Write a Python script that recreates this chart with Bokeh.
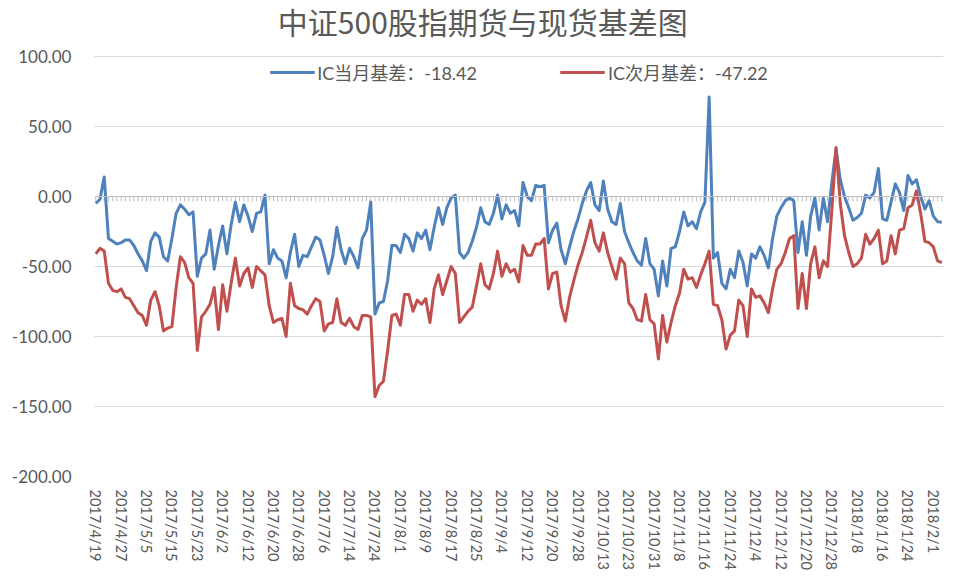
from bokeh.plotting import figure
from bokeh.models import (Range1d, FixedTicker, PrintfTickFormatter, Legend, LegendItem, Span, Label)
from bokeh.embed import file_html
from bokeh.resources import INLINE

title_text = "中证500股指期货与现货基差图"
series_names = ["IC当月基差：-18.42", "IC次月基差：-47.22"]

tick_labels = ["2017/4/19", "2017/4/27", "2017/5/5", "2017/5/15", "2017/5/23", "2017/6/2",
               "2017/6/12", "2017/6/20", "2017/6/28", "2017/7/6", "2017/7/14", "2017/7/24",
               "2017/8/1", "2017/8/9", "2017/8/17", "2017/8/25", "2017/9/4", "2017/9/12",
               "2017/9/20", "2017/9/28", "2017/10/13", "2017/10/23", "2017/10/31", "2017/11/8",
               "2017/11/16", "2017/11/24", "2017/12/4", "2017/12/12", "2017/12/20", "2017/12/28",
               "2018/1/8", "2018/1/16", "2018/1/24", "2018/2/1"]
label_step = 6

ic_near = [
    -5, -2, 14, -30, -32, -34, -33, -31, -31, -35,
    -41, -46, -53, -32, -26, -29, -43, -46, -30, -12,
    -6, -9, -13, -11, -57, -44, -41, -24, -52, -35,
    -21, -41, -20, -4, -18, -6, -14, -25, -12, -11,
    1, -48, -38, -44, -46, -58, -40, -27, -50, -42,
    -43, -36, -29, -31, -42, -55, -43, -22, -38, -48,
    -37, -43, -51, -30, -24, -4, -84, -76, -75, -60,
    -35, -35, -40, -27, -30, -39, -26, -30, -24, -38,
    -22, -8, -20, -8, -1, 1, -40, -44, -40, -32,
    -22, -8, -18, -20, -12, 1, -16, -6, -12, -10,
    -21, 10, 0, -3, 8, 7, 8, -33, -24, -19,
    -38, -48, -36, -25, -16, -5, 4, 10, -6, -10,
    11, -9, -18, -20, -5, -25, -33, -40, -46, -49,
    -30, -48, -52, -71, -46, -64, -37, -36, -25, -11,
    -21, -18, -23, -11, -4, 71, -44, -40, -62, -66,
    -52, -58, -39, -47, -64, -41, -44, -36, -42, -51,
    -30, -14, -8, -3, -1, -3, -40, -18, -42, -14,
    -1, -24, -1, -18, 10, 34, 12, 0, -8, -17,
    -15, -12, 1, -1, 3, 20, -16, -17, -4, 9,
    3, -10, 15, 9, 12, 0, -9, -3, -14, -18,
    -18.42]

ic_next = [
    -41, -37, -39, -62, -67, -68, -66, -72, -73, -78,
    -83, -85, -92, -74, -68, -78, -96, -94, -93, -65,
    -43, -47, -58, -62, -110, -86, -82, -77, -65, -95,
    -63, -82, -62, -44, -64, -55, -51, -65, -50, -53,
    -56, -78, -90, -88, -87, -100, -62, -78, -80, -81,
    -84, -78, -73, -75, -96, -91, -90, -73, -90, -92,
    -87, -93, -95, -85, -85, -86, -143, -135, -132, -110,
    -85, -84, -92, -70, -70, -82, -74, -77, -73, -90,
    -66, -56, -70, -60, -50, -55, -90, -86, -82, -79,
    -64, -48, -63, -66, -55, -39, -57, -48, -54, -52,
    -61, -35, -42, -42, -34, -34, -30, -66, -55, -54,
    -78, -89, -72, -60, -49, -40, -29, -17, -33, -39,
    -26, -40, -50, -59, -44, -48, -76, -80, -88, -89,
    -70, -88, -91, -116, -85, -104, -90, -78, -69, -52,
    -59, -58, -65, -56, -48, -39, -77, -78, -88, -109,
    -99, -96, -74, -78, -100, -66, -72, -71, -76, -83,
    -66, -52, -48, -40, -30, -28, -80, -55, -80, -48,
    -36, -58, -46, -50, -10, 35, -5, -28, -40, -50,
    -48, -44, -27, -34, -30, -24, -48, -46, -28, -41,
    -24, -23, -8, -6, 4, -12, -32, -33, -36, -46,
    -47.22]

y_ticks = [-200, -150, -100, -50, 0, 50, 100]

colors = ["#4F81BD", "#C0504D"]
gray_text = "#595959"
num_font = "Lato"
cjk_font = "Noto Sans CJK SC"

idx = list(range(len(ic_near)))
tick_pos = [i * label_step for i in range(len(tick_labels))]

# the frame extends above the 100 line so the chart title can sit inside it
p = figure(width=944, height=581, output_backend="svg", toolbar_location=None,
           x_range=Range1d(-0.3, len(ic_near) - 1 + 0.4), y_range=Range1d(-200, 140),
           min_border_left=94, min_border_right=1, min_border_top=0, min_border_bottom=105)

p.outline_line_color = None
p.background_fill_color = "white"

p.add_layout(Label(x=91.5, y=125.7, text=title_text,
                   text_align="center", text_baseline="middle", text_font=cjk_font,
                   text_font_size="30px", text_color=gray_text))

# y axis
p.yaxis.ticker = FixedTicker(ticks=y_ticks)
p.yaxis.formatter = PrintfTickFormatter(format="%.2f")
p.yaxis.axis_line_color = None
p.yaxis.major_tick_line_color = None
p.yaxis.minor_tick_line_color = None
p.yaxis.major_tick_out = 0
p.yaxis.major_tick_in = 0
p.yaxis.major_label_standoff = 23
p.yaxis.major_label_text_font = num_font
p.yaxis.major_label_text_font_size = "17px"
p.yaxis.major_label_text_color = gray_text

p.ygrid.ticker = FixedTicker(ticks=[t for t in y_ticks if t != 0])
p.ygrid.grid_line_color = "#D9D9D9"
p.ygrid.grid_line_width = 1
p.xgrid.grid_line_color = None

# x axis
p.xaxis.ticker = FixedTicker(ticks=tick_pos)
p.xaxis.major_label_overrides = {t: lab for t, lab in zip(tick_pos, tick_labels)}
p.xaxis.major_label_orientation = "vertical"
p.xaxis.axis_line_color = None
p.xaxis.major_tick_line_color = None
p.xaxis.minor_tick_line_color = None
p.xaxis.major_tick_out = 0
p.xaxis.major_tick_in = 0
p.xaxis.major_label_standoff = 13
p.xaxis.major_label_text_font = num_font
p.xaxis.major_label_text_font_size = "14.5px"
p.xaxis.major_label_text_color = gray_text

# zero axis line with category tick marks
p.add_layout(Span(location=0, dimension="width", line_color="#BFBFBF", line_width=1))
p.segment(x0=idx, y0=[0] * len(idx), x1=idx, y1=[-3.5] * len(idx),
          line_color="#BFBFBF", line_width=1)

r1 = p.line(idx, ic_near, line_color=colors[0], line_width=3, line_join="round")
r2 = p.line(idx, ic_next, line_color=colors[1], line_width=3, line_join="round")

legend = Legend(items=[LegendItem(label=series_names[0], renderers=[r1]),
                       LegendItem(label=series_names[1], renderers=[r2])],
                orientation="horizontal", location="top_center",
                border_line_alpha=0, background_fill_alpha=0,
                glyph_width=45, glyph_height=20, label_standoff=3, spacing=83,
                label_text_font=f"{num_font}, '{cjk_font}'", label_text_font_size="18px",
                label_text_color=gray_text, margin=56, padding=3)
p.add_layout(legend)

open("out.html", "w").write(file_html(p, INLINE))
